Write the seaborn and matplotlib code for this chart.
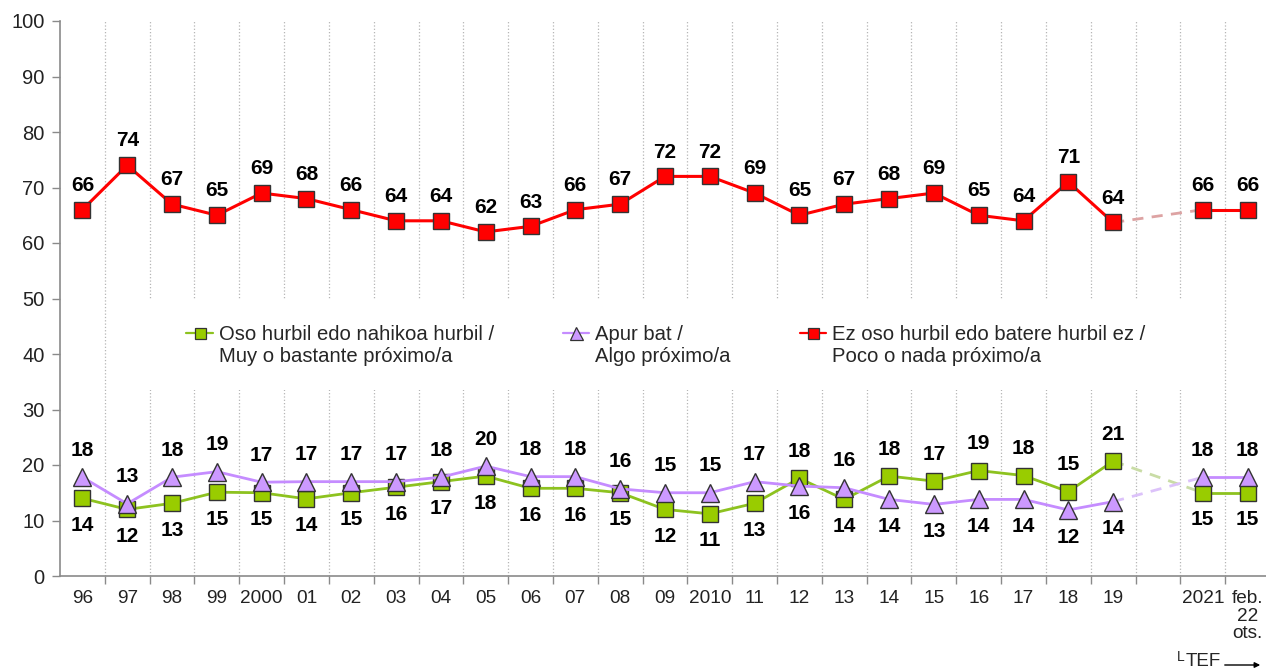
import numpy as np
import pandas as pd
import matplotlib
matplotlib.use("Agg")
import matplotlib.pyplot as plt
import seaborn as sns
from matplotlib.legend_handler import HandlerLine2D
from matplotlib.lines import Line2D
from matplotlib.patches import Rectangle

sns.set_theme(style="white")
plt.rcParams["font.family"] = ["Liberation Sans", "DejaVu Sans"]

# ---------------------------------------------------------------------------
# data
# ---------------------------------------------------------------------------
years = ["96", "97", "98", "99", "2000", "01", "02", "03", "04", "05", "06",
         "07", "08", "09", "2010", "11", "12", "13", "14", "15", "16", "17",
         "18", "19"]
recent = ["2021", "feb.\n22\nots."]

cerca = [14, 12, 13.1, 15.1, 15, 13.9, 15, 16, 17, 18, 15.8, 15.8, 15, 12,
         11.2, 13.1, 17.6, 13.8, 18, 17.1, 19, 18.1, 15.2, 20.7]
cerca_recent = [15, 15]
cerca_lbl = [14, 12, 13, 15, 15, 14, 15, 16, 17, 18, 16, 16, 15, 12, 11, 13,
             18, 14, 18, 17, 19, 18, 15, 21, 15, 15]

algo = [17.8, 13, 17.8, 18.8, 16.9, 17, 17, 17, 17.8, 19.8, 17.9, 17.9, 15.7,
        15, 15, 17, 16.2, 15.9, 13.8, 12.9, 13.8, 13.8, 11.9, 13.4]
algo_recent = [17.8, 17.8]
algo_lbl = [18, 13, 18, 19, 17, 17, 17, 17, 18, 20, 18, 18, 16, 15, 15, 17,
            16, 16, 14, 13, 14, 14, 12, 14, 18, 18]

lejos = [66, 74, 67, 65, 69, 68, 66, 64, 64, 62, 63, 66, 67, 72, 72, 69, 65,
         67, 68, 69, 65, 64, 71, 63.7]
lejos_recent = [66, 66]
lejos_lbl = [66, 74, 67, 65, 69, 68, 66, 64, 64, 62, 63, 66, 67, 72, 72, 69,
             65, 67, 68, 69, 65, 64, 71, 64, 66, 66]

names = ["Oso hurbil edo nahikoa hurbil /\nMuy o bastante próximo/a",
         "Apur bat /\nAlgo próximo/a",
         "Ez oso hurbil edo batere hurbil ez /\nPoco o nada próximo/a"]

# categories: the survey years, one empty slot, then the recent waves
cats = years + [""] + recent
pos_old = np.arange(len(years))
pos_new = np.arange(len(years) + 1, len(cats))

series = [
    dict(old=cerca, new=cerca_recent, lbl=cerca_lbl, color="#99CC00",
         line="#8DC21F", dash="#C9DCA6", marker="s", ms=11, lw=2.0),
    dict(old=algo, new=algo_recent, lbl=algo_lbl, color="#CC99FF",
         line="#C58CFF", dash="#DCC2FA", marker="^", ms=13, lw=2.0),
    dict(old=lejos, new=lejos_recent, lbl=lejos_lbl, color="#FF0000",
         line="#FF0000", dash="#DDA3A3", marker="s", ms=11, lw=2.2),
]


class _TopHandler(HandlerLine2D):
    # put the legend key beside the first line of a two-line label
    def create_artists(self, legend, orig_handle, xdescent, ydescent,
                       width, height, fontsize, trans):
        return super().create_artists(legend, orig_handle, xdescent,
                                      ydescent - 1.2 * fontsize, width,
                                      height, fontsize, trans)


W, H = 1266, 670
fig = plt.figure(figsize=(W / 100, H / 100), dpi=100)
ax = fig.add_axes([60 / W, 94 / H, 1210 / W, 555 / H])

for s in series:
    df_old = pd.DataFrame({"x": pos_old, "y": s["old"]})
    df_new = pd.DataFrame({"x": pos_new, "y": s["new"]})
    df_gap = pd.DataFrame({"x": [pos_old[-1], pos_new[0]],
                           "y": [s["old"][-1], s["new"][0]]})
    sns.lineplot(data=df_gap, x="x", y="y", ax=ax, color=s["dash"],
                 lw=2.0, linestyle=(0, (4, 3)), zorder=2)
    for d in (df_old, df_new):
        sns.lineplot(data=d, x="x", y="y", ax=ax, color=s["line"],
                     lw=s["lw"], marker=s["marker"], markersize=s["ms"],
                     markerfacecolor=s["color"], markeredgecolor="#333333",
                     markeredgewidth=1.0, zorder=3)

# value labels: the higher of the two lower series goes above its marker
all_c = np.array(cerca + [np.nan] + cerca_recent)
all_a = np.array(algo + [np.nan] + algo_recent)
all_l = np.array(lejos + [np.nan] + lejos_recent)
pos_all = np.concatenate([pos_old, pos_new])
keep = ~np.isnan(all_c)
vals_c, vals_a, vals_l = all_c[keep], all_a[keep], all_l[keep]

LBL = 15
for i, x in enumerate(pos_all):
    c_up = vals_c[i] >= vals_a[i]
    for v, lbl, up in ((vals_c[i], cerca_lbl[i], c_up),
                       (vals_a[i], algo_lbl[i], not c_up)):
        ax.annotate(str(lbl), (x, v), xytext=(0, 19.5 if up else -19.5),
                    textcoords="offset points", ha="center", va="center",
                    fontsize=LBL, fontweight="bold", color="black")
    ax.annotate(str(lejos_lbl[i]), (x, vals_l[i]), xytext=(0, 17.5),
                textcoords="offset points", ha="center", va="center",
                fontsize=LBL, fontweight="bold", color="black")

# axes
ax.set_xlim(-0.5, len(cats) - 0.5)
ax.set_ylim(0, 100)
ax.set_yticks(np.arange(0, 101, 10))
ax.set_xticks(np.arange(len(cats)))
ax.set_xticklabels(cats, fontsize=13.7, color="#222222", linespacing=1.05)
ax.set_xticks(np.arange(len(cats)) + 0.5, minor=True)
ax.tick_params(axis="x", which="major", length=0, pad=10)
ax.tick_params(axis="x", which="minor", length=6, width=1, color="#8a8a8a",
               direction="out", bottom=True)
ax.tick_params(axis="y", length=6, width=1, color="#8a8a8a", direction="out",
               left=True, labelsize=14.5, labelcolor="#222222", pad=5)
ax.set_xlabel("")
ax.set_ylabel("")
ax.grid(False)
ax.xaxis.grid(True, which="minor", linestyle=":", color="#b5b5b5", lw=0.9)
ax.set_axisbelow(True)
sns.despine(ax=ax, top=True, right=True)
for side in ("left", "bottom"):
    ax.spines[side].set_color("#8a8a8a")
    ax.spines[side].set_linewidth(1.2)

# white band behind the legend (breaks the grid lines)
ax.add_patch(Rectangle((0.041, 33.5), 0.901, 16.4,
                       transform=ax.get_yaxis_transform(),
                       facecolor="white", edgecolor="none", zorder=1))

handles = [Line2D([], [], color=s["line"], lw=1.6, marker=s["marker"],
                  markersize=s["ms"] * 0.72, markerfacecolor=s["color"],
                  markeredgecolor="#333333", markeredgewidth=0.9)
           for s in series]
ax.legend(handles, names, loc="center", bbox_to_anchor=(0.526, 0.485),
          bbox_transform=fig.transFigure, ncol=3, frameon=False,
          fontsize=14.6, handlelength=1.3, handletextpad=0.3,
          columnspacing=3.4, handler_map={Line2D: _TopHandler()})

# "TEF" marker under the last two waves
fig.text(1177 / W, 1 - 657 / H, "L", fontsize=10, va="center", ha="left")
fig.text(1186 / W, 1 - 662 / H, "TEF", fontsize=13.5, va="center", ha="left")
ax.annotate("", xy=(1263 / W, 1 - 665 / H), xytext=(1222 / W, 1 - 665 / H),
            xycoords="figure fraction", textcoords="figure fraction",
            arrowprops=dict(arrowstyle="-|>", lw=1, color="black",
                            mutation_scale=8))

fig.savefig("out.png", dpi=100)
